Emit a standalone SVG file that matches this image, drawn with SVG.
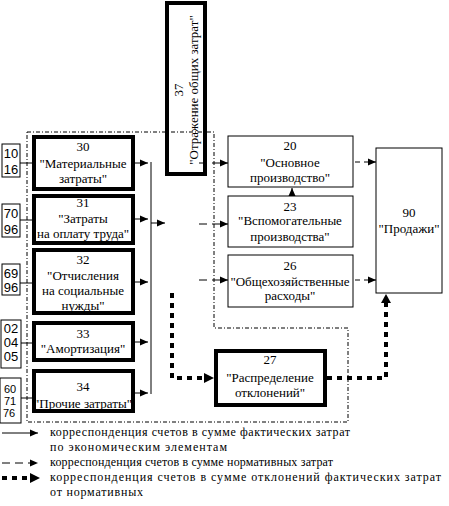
<svg xmlns="http://www.w3.org/2000/svg" width="449" height="506" viewBox="0 0 449 506">
<defs>
<marker id="ah" markerUnits="userSpaceOnUse" markerWidth="9" markerHeight="8" refX="8" refY="4" orient="auto"><path d="M0,0.5 L8,4 L0,7.5 Z" fill="#000"/></marker>
<style>
.t{font-size:13px;fill:#000;text-anchor:middle;dominant-baseline:central}
.s{font-size:13px;fill:#000;text-anchor:middle;dominant-baseline:central}
.l{font-size:12px;fill:#000;dominant-baseline:central}
.thick{fill:none;stroke:#000;stroke-width:4}
.thin{fill:none;stroke:#000;stroke-width:1}
.solid{fill:none;stroke:#000;stroke-width:1}
.dash{fill:none;stroke:#000;stroke-width:1;stroke-dasharray:8,5}
.dot{fill:none;stroke:#000;stroke-width:4;stroke-dasharray:5,5}
.bound{fill:none;stroke:#000;stroke-width:1;stroke-dasharray:4,2,1,2}
</style>
</defs>
<rect width="449" height="506" fill="#fff"/>
<path class="bound" d="M27,132 H214 V328 H348 V422 H27 Z"/>

<g id="accounts" font-family="'Liberation Sans', Arial, sans-serif">
<g id="acc-10-16"><rect class="thin" x="2" y="144" width="18" height="33" fill="#fff"/><text class="s" x="11" y="153">10</text><text class="s" x="11" y="169">16</text></g>
<g id="acc-70-96"><rect class="thin" x="2" y="204" width="18" height="33" fill="#fff"/><text class="s" x="11" y="213">70</text><text class="s" x="11" y="229">96</text></g>
<g id="acc-69-96"><rect class="thin" x="2" y="264" width="18" height="31" fill="#fff"/><text class="s" x="11" y="273">69</text><text class="s" x="11" y="287">96</text></g>
<g id="acc-02-04-05"><rect class="thin" x="1" y="320" width="20" height="48" fill="#fff"/><text class="s" x="11" y="328">02</text><text class="s" x="11" y="342">04</text><text class="s" x="11" y="356">05</text></g>
<g id="acc-60-71-76"><rect class="thin" x="0" y="378" width="21" height="45" fill="#fff"/><text class="s" x="10" y="389" style="font-size:11px">60</text><text class="s" x="10" y="401" style="font-size:11px">71</text><text class="s" x="9" y="413" style="font-size:11px">76</text></g>
</g>

<g id="nodes" font-family="'Liberation Serif', 'DejaVu Serif', 'Times New Roman', serif">
<g id="n30"><rect class="thick" x="34" y="137" width="99" height="52"/><text class="t" x="83" y="146">30</text><text class="t" x="83" y="163">"Материальные</text><text class="t" x="83" y="178">затраты"</text></g>
<g id="n31"><rect class="thick" x="34" y="196" width="99" height="47"/><text class="t" x="83" y="202">31</text><text class="t" x="83" y="218">"Затраты</text><text class="t" x="83" y="233">на оплату труда"</text></g>
<g id="n32"><rect class="thick" x="34" y="250" width="99" height="63"/><text class="t" x="83" y="259">32</text><text class="t" x="83" y="275">"Отчисления</text><text class="t" x="83" y="290">на социальные</text><text class="t" x="83" y="305">нужды"</text></g>
<g id="n33"><rect class="thick" x="34" y="323" width="99" height="37"/><text class="t" x="83" y="333">33</text><text class="t" x="83" y="348">"Амортизация"</text></g>
<g id="n34"><rect class="thick" x="34" y="371" width="99" height="40"/><text class="t" x="83" y="386">34</text><text class="t" x="83" y="403">"Прочие затраты"</text></g>

<g id="n37"><rect class="thick" x="167" y="3" width="38" height="171"/><text class="t" transform="translate(178,90) rotate(-90)">37</text><text class="t" transform="translate(193,90) rotate(-90)">"Отражение общих затрат"</text></g>

<g id="n20"><rect class="thin" x="228" y="136" width="125" height="51"/><text class="t" x="290" y="145">20</text><text class="t" x="290" y="162">"Основное</text><text class="t" x="290" y="177">производство"</text></g>
<g id="n23"><rect class="thin" x="228" y="196" width="125" height="51"/><text class="t" x="290" y="206">23</text><text class="t" x="290" y="220">"Вспомогательные</text><text class="t" x="290" y="236">производства"</text></g>
<g id="n26"><rect class="thin" x="228" y="255" width="125" height="52"/><text class="t" x="290" y="265">26</text><text class="t" x="290" y="281">"Общехозяйственные</text><text class="t" x="290" y="295">расходы"</text></g>
<g id="n90"><rect class="thin" x="376" y="148" width="66" height="145"/><text class="t" x="409" y="212">90</text><text class="t" x="409" y="228">"Продажи"</text></g>
<g id="n27"><rect class="thick" x="216" y="351" width="109" height="54"/><text class="t" x="270" y="359">27</text><text class="t" x="270" y="377">"Распределение</text><text class="t" x="270" y="392">отклонений"</text></g>
</g>

<g id="connectors">
<line class="solid" x1="20" y1="163" x2="34" y2="163"/>
<line class="solid" x1="20" y1="220" x2="34" y2="220"/>
<line class="solid" x1="20" y1="283" x2="34" y2="283"/>
<line class="solid" x1="21" y1="343" x2="34" y2="343"/>
<line class="solid" x1="21" y1="398" x2="34" y2="398"/>
<line class="solid" x1="135" y1="163" x2="148" y2="163" marker-end="url(#ah)"/>
<line class="solid" x1="135" y1="219" x2="148" y2="219" marker-end="url(#ah)"/>
<line class="solid" x1="135" y1="282" x2="148" y2="282" marker-end="url(#ah)"/>
<line class="solid" x1="135" y1="342" x2="148" y2="342" marker-end="url(#ah)"/>
<line class="solid" x1="135" y1="393" x2="148" y2="393" marker-end="url(#ah)"/>
<line class="solid" x1="151" y1="162" x2="151" y2="394"/>
<line class="solid" x1="151" y1="223" x2="165" y2="223" marker-end="url(#ah)"/>
<line class="dash" x1="199" y1="163" x2="228" y2="163" marker-end="url(#ah)"/>
<line class="dash" x1="199" y1="224" x2="228" y2="224" marker-end="url(#ah)"/>
<line class="dash" x1="199" y1="280" x2="228" y2="280" marker-end="url(#ah)"/>
<line class="solid" x1="292" y1="196" x2="292" y2="188" marker-end="url(#ah)"/>
<line class="dash" x1="355" y1="162" x2="376" y2="162" style="stroke-dasharray:5,4" marker-end="url(#ah)"/>
<line class="dash" x1="355" y1="280" x2="376" y2="280" style="stroke-dasharray:5,4" marker-end="url(#ah)"/>
<path class="dot" d="M172,293 V378 H206"/>
<path d="M204,373 L214,378 L204,383 Z" fill="#000"/>
<path class="dot" d="M327,378 H386 V302"/>
<path d="M381,303 L386,294 L391,303 Z" fill="#000"/>
</g>

<g id="legend" font-family="'Liberation Serif', 'DejaVu Serif', 'Times New Roman', serif">
<line class="solid" x1="2" y1="433" x2="38" y2="433" marker-end="url(#ah)"/>
<line class="dash" x1="2" y1="463" x2="38" y2="463" marker-end="url(#ah)"/>
<line class="dot" x1="2" y1="478" x2="30" y2="478"/>
<path d="M30,473 L40,478 L30,483 Z" fill="#000"/>
<text class="l" x="50" y="432" textLength="300" lengthAdjust="spacing">корреспонденция счетов в сумме фактических затрат</text>
<text class="l" x="50" y="447" textLength="177" lengthAdjust="spacing">по экономическим элементам</text>
<text class="l" x="50" y="462" textLength="283" lengthAdjust="spacing">корреспонденция счетов в сумме нормативных затрат</text>
<text class="l" x="50" y="477" textLength="391" lengthAdjust="spacing">корреспонденция счетов в сумме отклонений фактических затрат</text>
<text class="l" x="50" y="492" textLength="93" lengthAdjust="spacing">от нормативных</text>
</g>
</svg>
